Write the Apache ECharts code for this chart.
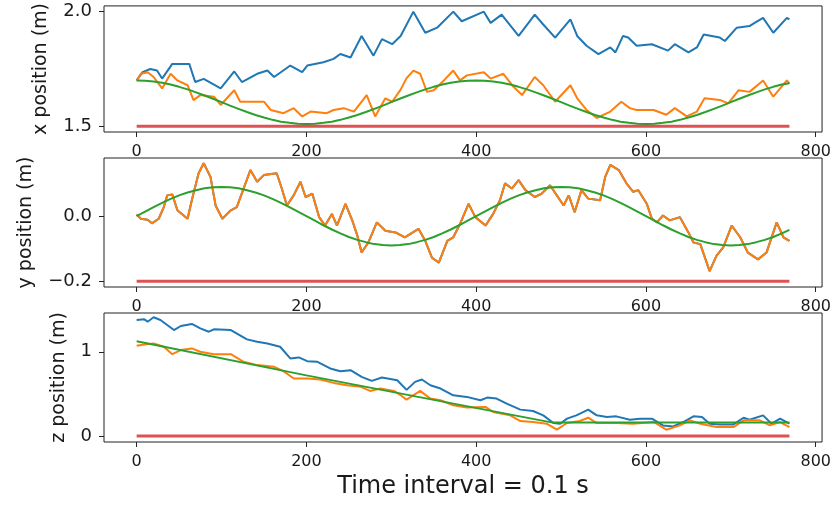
<!DOCTYPE html>
<html>
<head>
<meta charset="utf-8">
<script src="https://cdn.jsdelivr.net/npm/echarts@6/dist/echarts.min.js"></script>
<style>
html,body{margin:0;padding:0;background:#fff;}
#chart{width:834px;height:506px;}
</style>
</head>
<body>
<div id="chart"></div>
<script>
// ---- tick labels ----
const xTicks = [0, 200, 400, 600, 800];
const xPosTicks = [1.5, 2.0];
const yPosTicks = [-0.2, 0.0];
const zPosTicks = [0, 1];

// ---- x position (m) ----
const xBlue = [[0,1.70],[7,1.736],[16,1.75],[24,1.743],[30,1.708],[42,1.772],[62,1.772],[69,1.693],[79,1.707],[99,1.665],[115,1.739],[124,1.693],[142,1.729],[154,1.743],[162,1.715],[181,1.765],[195,1.736],[201,1.765],[220,1.779],[232,1.794],[240,1.815],[252,1.80],[265,1.894],[279,1.808],[289,1.88],[301,1.858],[311,1.894],[326,2.0],[340,1.908],[354,1.93],[373,2.0],[383,1.958],[409,2.0],[417,1.951],[430,1.987],[450,1.894],[469,1.987],[479,1.944],[493,1.887],[511,1.966],[519,1.894],[530,1.851],[544,1.815],[558,1.844],[564,1.822],[573,1.894],[579,1.887],[589,1.851],[607,1.858],[626,1.83],[634,1.858],[650,1.822],[660,1.844],[668,1.90],[687,1.887],[693,1.872],[707,1.93],[722,1.937],[728,1.951],[738,1.973],[750,1.908],[766,1.973],[769,1.966]];
const xOrange = [[0,1.70],[5,1.729],[13,1.736],[20,1.715],[30,1.665],[40,1.729],[48,1.70],[60,1.679],[67,1.614],[75,1.636],[91,1.629],[99,1.593],[115,1.657],[122,1.607],[134,1.607],[150,1.607],[158,1.571],[173,1.557],[185,1.579],[195,1.543],[205,1.564],[224,1.557],[232,1.571],[244,1.579],[256,1.564],[271,1.636],[281,1.543],[293,1.622],[301,1.607],[311,1.66],[318,1.71],[326,1.743],[334,1.729],[342,1.65],[350,1.657],[362,1.70],[373,1.743],[381,1.70],[389,1.722],[409,1.736],[417,1.708],[432,1.729],[444,1.672],[454,1.636],[469,1.715],[479,1.679],[493,1.607],[511,1.679],[519,1.622],[530,1.571],[542,1.536],[558,1.564],[571,1.607],[581,1.579],[589,1.571],[609,1.571],[624,1.55],[634,1.579],[648,1.543],[660,1.564],[669,1.622],[687,1.615],[697,1.60],[709,1.657],[722,1.65],[738,1.70],[750,1.629],[766,1.70],[769,1.686]];
const greenT = [0,10,20,30,40,50,60,70,80,90,100,110,120,130,140,150,160,170,180,190,200,210,220,230,240,250,260,270,280,290,300,310,320,330,340,350,360,370,380,390,400,410,420,430,440,450,460,470,480,490,500,510,520,530,540,550,560,570,580,590,600,610,620,630,640,650,660,670,680,690,700,710,720,730,740,750,760,769];
const xGreen = [1.700,1.699,1.695,1.690,1.682,1.672,1.661,1.648,1.634,1.620,1.605,1.590,1.576,1.562,1.549,1.538,1.528,1.520,1.515,1.511,1.510,1.511,1.515,1.520,1.528,1.538,1.549,1.562,1.576,1.590,1.605,1.620,1.634,1.648,1.661,1.672,1.682,1.690,1.695,1.699,1.700,1.699,1.695,1.690,1.682,1.672,1.661,1.648,1.634,1.620,1.605,1.590,1.576,1.562,1.549,1.538,1.528,1.520,1.515,1.511,1.510,1.511,1.515,1.520,1.528,1.538,1.549,1.562,1.576,1.590,1.605,1.620,1.634,1.648,1.661,1.672,1.682,1.688];
const xRed = [[0,1.5],[769,1.5]];

// ---- y position (m) ----
const yOrange = [[0,0.005],[5,-0.008],[13,-0.011],[18,-0.022],[26,-0.008],[32,0.028],[36,0.064],[42,0.067],[48,0.018],[60,-0.008],[65,0.049],[73,0.132],[79,0.163],[87,0.121],[93,0.033],[101,-0.008],[111,0.018],[118,0.028],[126,0.085],[134,0.142],[142,0.106],[150,0.127],[165,0.132],[171,0.085],[177,0.033],[185,0.064],[193,0.106],[199,0.059],[207,0.069],[215,-0.003],[222,-0.029],[230,0.007],[236,-0.029],[246,0.038],[254,-0.013],[260,-0.06],[265,-0.112],[273,-0.081],[283,-0.019],[293,-0.045],[305,-0.05],[316,-0.065],[332,-0.039],[340,-0.076],[348,-0.128],[356,-0.143],[366,-0.076],[373,-0.065],[381,-0.024],[391,0.038],[399,-0.003],[411,-0.029],[420,0.007],[428,0.049],[434,0.101],[442,0.085],[450,0.111],[458,0.08],[469,0.059],[477,0.069],[487,0.095],[495,0.064],[503,0.033],[509,0.064],[516,0.012],[524,0.08],[532,0.054],[546,0.049],[552,0.121],[558,0.158],[568,0.142],[577,0.101],[585,0.075],[591,0.08],[601,0.038],[607,-0.008],[613,-0.019],[620,0.002],[628,-0.013],[640,-0.003],[650,-0.05],[656,-0.081],[664,-0.086],[675,-0.169],[683,-0.122],[691,-0.096],[701,-0.029],[711,-0.065],[720,-0.112],[732,-0.133],[742,-0.112],[754,-0.019],[762,-0.065],[769,-0.076]];
const yBlue = yOrange; // blue trace coincides with orange and is hidden beneath it
const yGreen = [0,0.014,0.028,0.041,0.053,0.064,0.073,0.080,0.086,0.089,0.090,0.089,0.086,0.080,0.073,0.064,0.053,0.041,0.028,0.014,0,-0.014,-0.028,-0.041,-0.053,-0.064,-0.073,-0.080,-0.086,-0.089,-0.090,-0.089,-0.086,-0.080,-0.073,-0.064,-0.053,-0.041,-0.028,-0.014,0,0.014,0.028,0.041,0.053,0.064,0.073,0.080,0.086,0.089,0.090,0.089,0.086,0.080,0.073,0.064,0.053,0.041,0.028,0.014,0,-0.014,-0.028,-0.041,-0.053,-0.064,-0.073,-0.080,-0.086,-0.089,-0.090,-0.089,-0.086,-0.080,-0.073,-0.064,-0.053,-0.042];
const yRed = [[0,-0.2],[769,-0.2]];

// ---- z position (m) ----
const zBlue = [[0,1.377],[9,1.385],[13,1.357],[20,1.409],[28,1.377],[44,1.258],[52,1.306],[65,1.33],[75,1.278],[85,1.238],[91,1.266],[111,1.258],[130,1.147],[142,1.119],[154,1.099],[169,1.06],[181,0.921],[191,0.933],[201,0.889],[213,0.881],[228,0.802],[240,0.77],[252,0.782],[265,0.703],[277,0.655],[289,0.695],[307,0.663],[318,0.548],[328,0.643],[336,0.671],[346,0.603],[358,0.564],[373,0.484],[389,0.465],[405,0.425],[413,0.457],[424,0.445],[436,0.385],[452,0.314],[467,0.298],[479,0.246],[491,0.155],[499,0.147],[507,0.207],[518,0.246],[532,0.314],[542,0.246],[554,0.226],[565,0.234],[581,0.194],[593,0.207],[607,0.207],[620,0.127],[632,0.115],[644,0.167],[656,0.234],[666,0.226],[675,0.147],[687,0.139],[703,0.139],[715,0.218],[722,0.194],[738,0.246],[748,0.147],[758,0.207],[769,0.147]];
const zOrange = [[0,1.071],[9,1.087],[20,1.099],[32,1.06],[42,0.972],[52,1.02],[65,1.04],[75,1.0],[91,0.972],[111,0.972],[126,0.881],[142,0.842],[162,0.822],[173,0.77],[185,0.683],[201,0.683],[216,0.671],[232,0.631],[248,0.603],[264,0.584],[275,0.536],[287,0.564],[303,0.536],[311,0.485],[318,0.433],[334,0.536],[346,0.445],[358,0.425],[373,0.366],[389,0.338],[411,0.346],[420,0.286],[440,0.246],[452,0.179],[467,0.167],[483,0.147],[495,0.076],[507,0.155],[522,0.179],[532,0.218],[542,0.155],[565,0.155],[585,0.147],[609,0.167],[624,0.076],[640,0.127],[652,0.187],[664,0.147],[683,0.107],[703,0.107],[715,0.187],[734,0.187],[746,0.127],[758,0.167],[769,0.107]];
const zGreen = [[0,1.125],[200,0.72],[330,0.468],[490,0.16],[769,0.16]];
const zRed = [[0,0],[769,0]];

const C0 = '#1f77b4', C1 = '#ff7f0e', C2 = '#2ca02c', C3 = '#d62728';
const FONT = 'DejaVu Sans';
const TXT = '#1a1a1a';

const withT = (vals) => vals.map((v, i) => [greenT[i], v]);

const grids = [
  {left: 104, right: 10, top: 3, height: 129},
  {left: 104, right: 10, top: 158, height: 129},
  {left: 104, right: 10, top: 313, height: 129}
].map(g => Object.assign(g, {show: true, borderColor: '#222', borderWidth: 1, backgroundColor: 'transparent', containLabel: false}));

function xAx(i, extra) {
  return Object.assign({
    type: 'value', gridIndex: i, min: -38.45, max: 807.45,
    axisLine: {show: false, onZero: false},
    splitLine: {show: false},
    axisTick: {show: true, inside: false, length: 5, lineStyle: {color: '#222'}, customValues: xTicks},
    axisLabel: {show: true, customValues: xTicks, margin: 12, fontFamily: FONT, fontSize: 16, color: TXT}
  }, extra || {});
}
function yAx(i, min, max, ticks, fmt, name, gap) {
  return {
    type: 'value', gridIndex: i, min: min, max: max,
    axisLine: {show: false, onZero: false},
    splitLine: {show: false},
    axisTick: {show: true, inside: false, length: 5, lineStyle: {color: '#222'}, customValues: ticks},
    axisLabel: {show: true, customValues: ticks, margin: 12, fontFamily: FONT, fontSize: 18, color: TXT, formatter: fmt},
    name: name, nameLocation: 'middle', nameRotate: 90, nameGap: gap,
    nameTextStyle: {fontFamily: FONT, fontSize: 19, color: TXT}
  };
}
function line(xi, data, color, w, op) {
  return {type: 'line', xAxisIndex: xi, yAxisIndex: xi, data: data, showSymbol: false, symbol: 'none',
    lineStyle: {color: color, width: w, opacity: op || 1}, itemStyle: {color: color}, animation: false, silent: true, z: 2};
}

const option = {
  animation: false,
  backgroundColor: '#fff',
  grid: grids,
  xAxis: [
    xAx(0), xAx(1),
    xAx(2, {name: 'Time interval = 0.1 s', nameLocation: 'middle', nameGap: 33,
      nameTextStyle: {fontFamily: FONT, fontSize: 24, color: TXT}})
  ],
  yAxis: [
    yAx(0, 1.475, 2.025, xPosTicks, v => v.toFixed(1), 'x position (m)', 53),
    yAx(1, -0.218, 0.179, yPosTicks, v => (v < -1e-9 ? '\u2212' : '') + Math.abs(v).toFixed(1), 'y position (m)', 68),
    yAx(2, -0.07, 1.46, zPosTicks, v => v.toFixed(0), 'z position (m)', 35)
  ],
  series: [
    line(0, xBlue, C0, 2), line(0, xOrange, C1, 2), line(0, withT(xGreen), C2, 2), line(0, xRed, C3, 3, 0.8),
    line(1, yBlue, C0, 2), line(1, yOrange, C1, 2), line(1, withT(yGreen), C2, 2), line(1, yRed, C3, 3, 0.8),
    line(2, zBlue, C0, 2), line(2, zOrange, C1, 2), line(2, zGreen, C2, 2), line(2, zRed, C3, 3, 0.8)
  ]
};

const chart = echarts.init(document.getElementById('chart'), null, {renderer: 'canvas'});
chart.setOption(option);
</script>
</body>
</html>
